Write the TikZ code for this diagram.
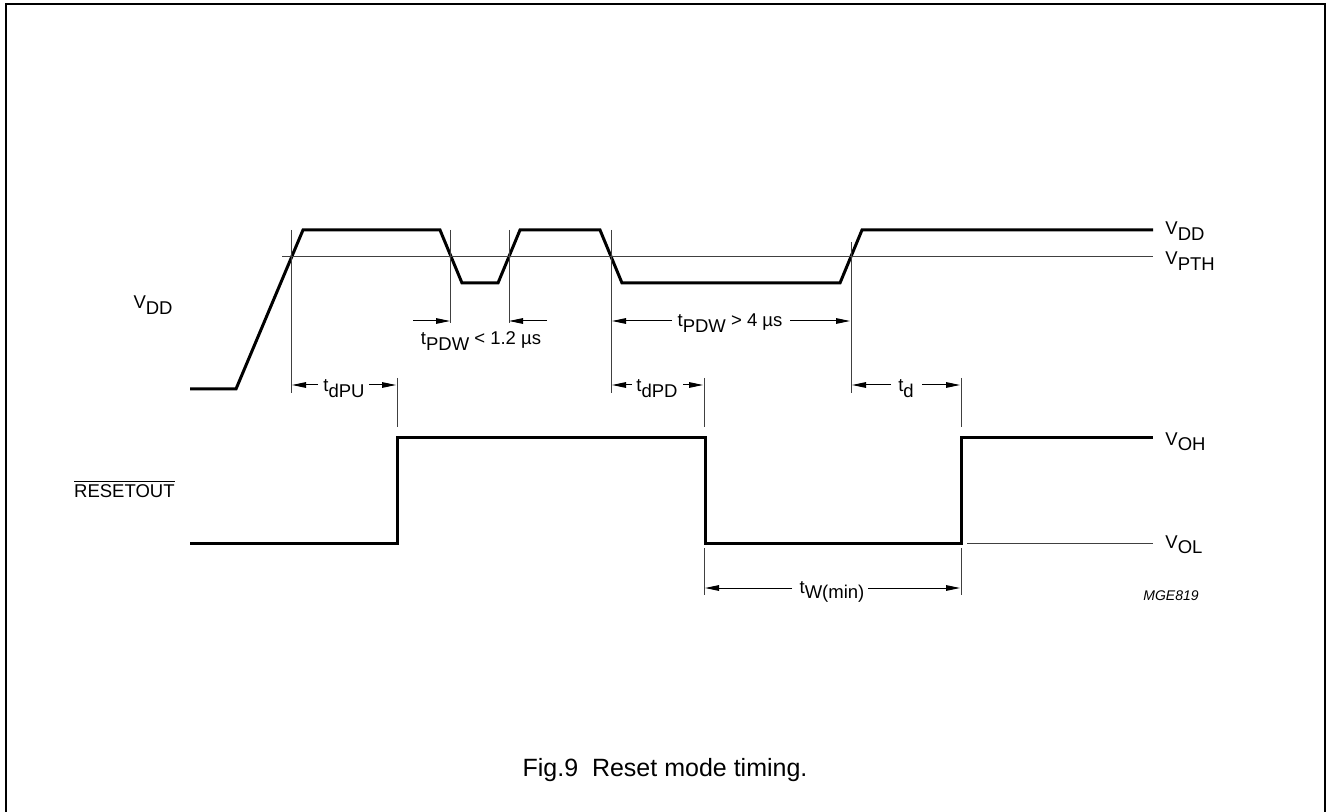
\documentclass[tikz,border=0pt]{standalone}
\usepackage{fontspec}
\setmainfont{Liberation Sans}
\usetikzlibrary{arrows.meta}
\newcommand{\lowsub}[1]{\raisebox{-0.32em}{#1}}

\begin{document}
\begin{tikzpicture}[x=0.5pt,y=-0.5pt]
    \tikzstyle{wave}=[line width=1.5pt]
    \tikzstyle{thin}=[line width=0.5pt,black!75]
    \tikzstyle{dim}=[line width=0.5pt,-{Triangle[length=7pt,width=2.8pt]}]
    \tikzstyle{lbl}=[font=\fontsize{9.25}{11}\selectfont,inner sep=0pt]

    \useasboundingbox (0,0) rectangle (1327,812);
    \draw[line width=1pt] (6,830) -- (6,4) -- (1325,4) -- (1325,830);

    \begin{scope}
    % supply voltage
    \coordinate (v0) at (190,389);
    \coordinate (v1) at (236,389);
    \coordinate (v2) at (303,230);
    \coordinate (v3) at (440,230);
    \coordinate (v4) at (462,283);
    \coordinate (v5) at (498,283);
    \coordinate (v6) at (520,230);
    \coordinate (v7) at (600,230);
    \coordinate (v8) at (622,283);
    \coordinate (v9) at (840,283);
    \coordinate (v10) at (862,230);
    \coordinate (v11) at (1153,230);
    \draw[wave] (v0) -- (v1) -- (v2) -- (v3) -- (v4) -- (v5) -- (v6) -- (v7) -- (v8) -- (v9) -- (v10) -- (v11);

    \coordinate (pthL) at (282,257);
    \coordinate (pthR) at (1153,257);
    \draw[thin] (pthL) -- (pthR);

    \node[lbl,anchor=base east] (vddleft) at (173,309) {V\lowsub{DD}};
    \node[lbl,anchor=base west] (vddright) at (1165,235) {V\lowsub{DD}};
    \node[lbl,anchor=base west] (vpth) at (1165,265) {V\lowsub{PTH}};

    \coordinate (puT) at (291,230);    \coordinate (puB) at (291,393);
    \coordinate (g1T) at (450,230);    \coordinate (g1B) at (450,323);
    \coordinate (g2T) at (509,230);    \coordinate (g2B) at (509,323);
    \coordinate (pdT) at (611,230);    \coordinate (pdB) at (611,393);
    \coordinate (upT) at (851,242);    \coordinate (upB) at (851,393);
    \draw[thin] (puT) -- (puB);
    \draw[thin] (g1T) -- (g1B);
    \draw[thin] (g2T) -- (g2B);
    \draw[thin] (pdT) -- (pdB);
    \draw[thin] (upT) -- (upB);
    \end{scope}

    \begin{scope}
    % reset output
    \coordinate (r0) at (190,543);
    \coordinate (r1) at (397,543);
    \coordinate (r2) at (397,437);
    \coordinate (r3) at (705,437);
    \coordinate (r4) at (705,543);
    \coordinate (r5) at (961,543);
    \coordinate (r6) at (961,437);
    \coordinate (r7) at (1153,437);
    \draw[wave] (r0) -- (r1) -- (r2) -- (r3) -- (r4) -- (r5) -- (r6) -- (r7);

    \coordinate (olL) at (967,543);
    \coordinate (olR) at (1153,543);
    \draw[thin] (olL) -- (olR);

    \node[lbl,anchor=base east] (resetout) at (175,497) {$\overline{\mbox{RESETOUT}}$};
    \node[lbl,anchor=base west] (voh) at (1165,445) {V\lowsub{OH}};
    \node[lbl,anchor=base west] (vol) at (1165,548) {V\lowsub{OL}};

    \coordinate (k1T) at (397,378);    \coordinate (k1B) at (397,427);
    \coordinate (k2T) at (704,378);    \coordinate (k2B) at (704,427);
    \coordinate (k3T) at (961,378);    \coordinate (k3B) at (961,427);
    \coordinate (w1T) at (704,548);    \coordinate (w1B) at (704,595);
    \coordinate (w2T) at (961,548);    \coordinate (w2B) at (961,595);
    \draw[thin] (k1T) -- (k1B);
    \draw[thin] (k2T) -- (k2B);
    \draw[thin] (k3T) -- (k3B);
    \draw[thin] (w1T) -- (w1B);
    \draw[thin] (w2T) -- (w2B);
    \end{scope}

    \begin{scope}
    % timing dimensions
    \node[lbl,anchor=base] (tpdwshort) at (481,345) {t\lowsub{PDW} < 1.2 µs};
    \coordinate (sA) at (413,321);  \coordinate (sB) at (450,321);
    \coordinate (sC) at (547,321);  \coordinate (sD) at (509,321);
    \draw[dim] (sA) -- (sB);
    \draw[dim] (sC) -- (sD);

    \node[lbl,anchor=base] (tpdwlong) at (730,327) {t\lowsub{PDW} > 4 µs};
    \coordinate (lA) at (672,321);  \coordinate (lB) at (612,321);
    \coordinate (lC) at (790,321);  \coordinate (lD) at (850,321);
    \draw[dim] (lA) -- (lB);
    \draw[dim] (lC) -- (lD);

    \node[lbl,anchor=base] (tdpu) at (344,392) {t\lowsub{dPU}};
    \coordinate (uA) at (318,385);  \coordinate (uB) at (292,385);
    \coordinate (uC) at (369,385);  \coordinate (uD) at (396,385);
    \draw[dim] (uA) -- (uB);
    \draw[dim] (uC) -- (uD);

    \node[lbl,anchor=base] (tdpd) at (657,392) {t\lowsub{dPD}};
    \coordinate (dA) at (632,385);  \coordinate (dB) at (612,385);
    \coordinate (dC) at (683,385);  \coordinate (dD) at (703,385);
    \draw[dim] (dA) -- (dB);
    \draw[dim] (dC) -- (dD);

    \node[lbl,anchor=base] (td) at (906,392) {t\lowsub{d}};
    \coordinate (eA) at (891,385);  \coordinate (eB) at (852,385);
    \coordinate (eC) at (922,385);  \coordinate (eD) at (960,385);
    \draw[dim] (eA) -- (eB);
    \draw[dim] (eC) -- (eD);

    \node[lbl,anchor=base] (twmin) at (832,593) {t\lowsub{W(min)}};
    \coordinate (mA) at (792,588);  \coordinate (mB) at (705,588);
    \coordinate (mC) at (868,588);  \coordinate (mD) at (960,588);
    \draw[dim] (mA) -- (mB);
    \draw[dim] (mC) -- (mD);
    \end{scope}

    \node[font=\fontsize{7}{8}\selectfont\itshape,inner sep=0pt,anchor=base west] (mge) at (1143,600) {MGE819};
    \node[font=\fontsize{12.5}{14}\selectfont,inner sep=0pt,anchor=base] (caption) at (665,776) {Fig.9\ \ Reset mode timing.};

\end{tikzpicture}
\end{document}
